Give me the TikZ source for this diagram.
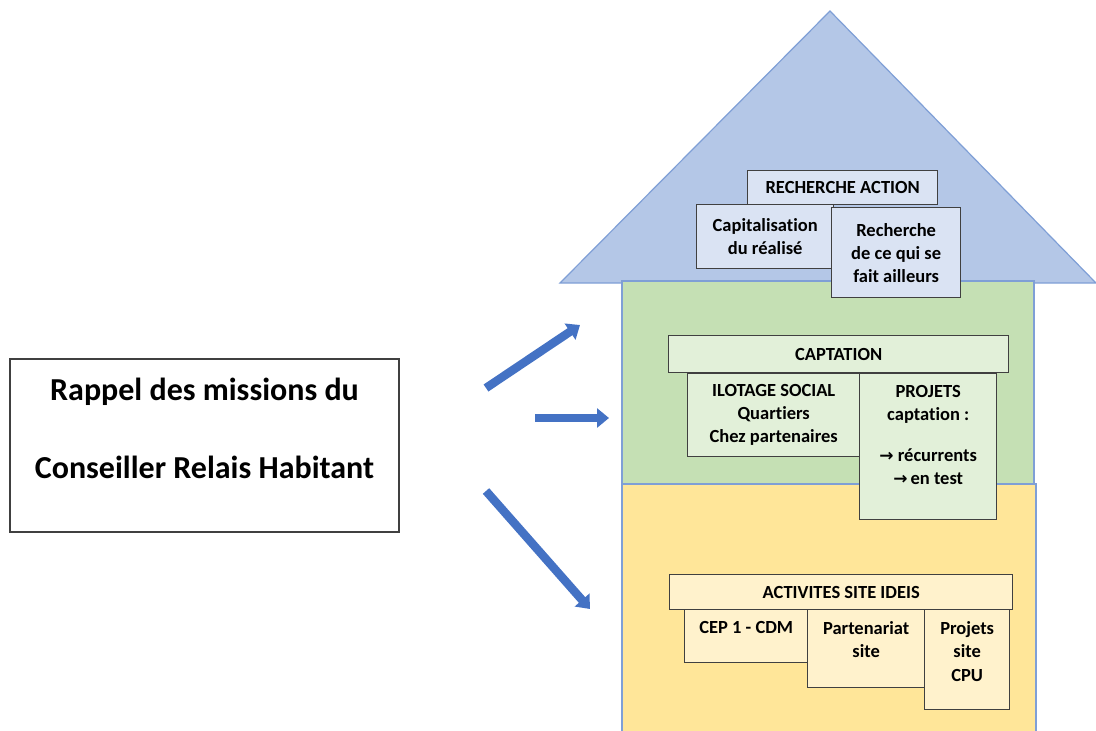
\documentclass[tikz,border=0pt]{standalone}
\usepackage{fontspec}
\setmainfont{Carlito}[Ligatures=NoCommon]
\newfontfamily\arrowfont{DejaVu Sans}
\usetikzlibrary{arrows.meta}
\definecolor{roofblue}{HTML}{B4C7E7}
\definecolor{roofin}{HTML}{DAE3F3}
\definecolor{midgreen}{HTML}{C5E0B4}
\definecolor{greenin}{HTML}{E2F0D9}
\definecolor{midyellow}{HTML}{FFE699}
\definecolor{yellowin}{HTML}{FFF2CC}
\definecolor{houseedge}{HTML}{7F9FD6}
\definecolor{boxgray}{HTML}{404040}
\definecolor{arrowblue}{HTML}{4472C4}
\tikzset{
  inbox/.style={draw=boxgray, line width=1.4pt, anchor=north west, inner sep=0pt,
    align=center, font=\fontsize{18.5}{23}\selectfont\bfseries},
  intxt/.style={anchor=north, inner sep=0pt, align=center,
    font=\fontsize{18.5}{23.5}\selectfont\bfseries},
  housepart/.style={draw=houseedge, line width=1.2pt},
  bigarrow/.style={arrowblue, line width=8.5pt, -{Triangle[width=19pt,length=12pt]}}
}
\newcommand{\rarr}{{\arrowfont\fontsize{17}{23}\selectfont →}}
\begin{document}
\begin{tikzpicture}[x=1pt, y=-1pt]
\useasboundingbox (0,0) rectangle (1096,731);
% the house
\filldraw[housepart, fill=roofblue] (560,283) -- (830,11) -- (1096,283) -- cycle;
\filldraw[housepart, fill=midgreen] (622,281) rectangle (1034,484);
\filldraw[housepart, fill=midyellow] (622,484) rectangle (1036,740);
% roof
\node[inbox, fill=roofin, minimum width=190pt, minimum height=34pt] (ra) at (747,170) {RECHERCHE ACTION};
\node[inbox, fill=roofin, minimum width=137pt, minimum height=64pt] (capi) at (696,204) {Capitalisation\\du réalisé};
\node[inbox, fill=roofin, minimum width=129pt, minimum height=90pt] (rech) at (831,207) {Recherche\\de ce qui se\\fait ailleurs};
% captation
\node[inbox, fill=greenin, minimum width=340pt, minimum height=37pt] (capt) at (668,335) {CAPTATION};
\node[inbox, fill=greenin, minimum width=172pt, minimum height=83pt] (ilot) at (687,373) {ILOTAGE SOCIAL\\Quartiers\\Chez partenaires};
\node[inbox, fill=greenin, minimum width=137pt, minimum height=146pt] (proj) at (859,373) {};
\node[intxt] (projtxt) at ([yshift=-12pt]proj.north) {PROJETS\\captation :\\[17pt]\rarr\ récurrents\\\rarr\,en test};
% activites
\node[inbox, fill=yellowin, minimum width=343pt, minimum height=35pt] (act) at (669,574) {ACTIVITES SITE IDEIS};
\node[inbox, fill=yellowin, minimum width=123pt, minimum height=53pt] (cep) at (684,609) {};
\node[inbox, fill=yellowin, minimum width=117pt, minimum height=78pt] (part) at (807,609) {};
\node[inbox, fill=yellowin, minimum width=85pt, minimum height=100pt] (cpu) at (924,609) {};
\node[intxt] (ceptxt) at ([yshift=-12pt]cep.north) {CEP 1 - CDM};
\node[intxt] (parttxt) at ([yshift=-12pt]part.north) {Partenariat\\site};
\node[intxt] (cputxt) at ([yshift=-12pt]cpu.north) {Projets\\site\\CPU};
% left box
\node[draw=boxgray, line width=1.2pt, minimum width=389pt, minimum height=173pt] (crh) at (204.5,445.5) {};
\node[align=center, inner sep=0pt, font=\fontsize{32}{39}\selectfont\bfseries] (crhtxt) at (204.5,428)
  {Rappel des missions du\\[39pt]Conseiller Relais Habitant};
% arrows
\coordinate (a1s) at (486,388);
\coordinate (a1e) at (580,325);
\coordinate (a2s) at (535,418);
\coordinate (a2e) at (609,418);
\coordinate (a3s) at (486,491);
\coordinate (a3e) at (590,609);
\draw[bigarrow] (a1s) -- (a1e);
\draw[bigarrow] (a2s) -- (a2e);
\draw[bigarrow] (a3s) -- (a3e);
\end{tikzpicture}
\end{document}
